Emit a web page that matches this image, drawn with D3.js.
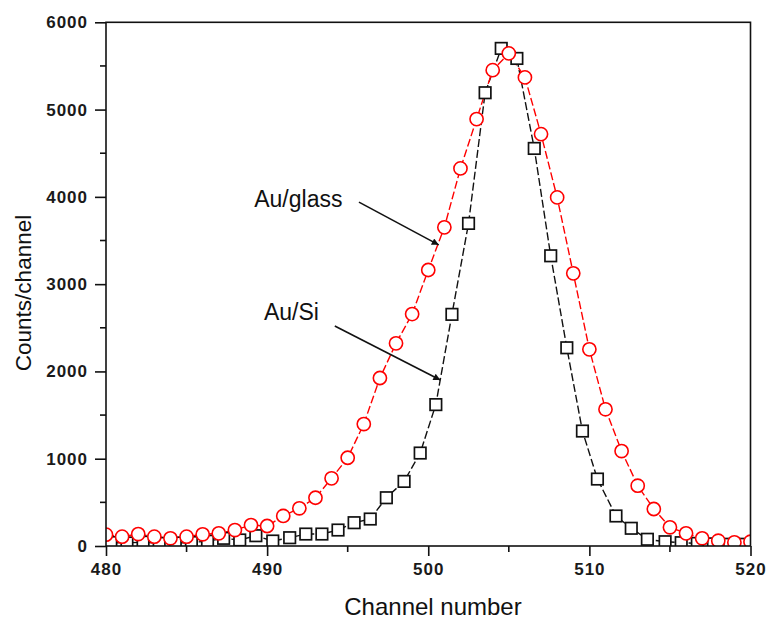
<!DOCTYPE html>
<html>
<head>
<meta charset="utf-8">
<script src="https://cdn.jsdelivr.net/npm/d3@7"></script>
<style>
  html, body { margin: 0; padding: 0; background: #fff; }
  svg { display: block; }
</style>
</head>
<body>
<svg id="chart" width="769" height="619"></svg>
<script>
// ---- data ----
const glassChannels = [480,481,482,483,484,485,486,487,488,489,490,491,492,493,494,495,496,497,498,499,500,501,502,503,504,505,506,507,508,509,510,511,512,513,514,515,516,517,518,519,520];
const glassCounts   = [130,107,137,107,88,107,134,145,183,240,229,344,432,553,775,1011,1397,1925,2322,2657,3162,3651,4326,4891,5452,5644,5369,4719,3994,3124,2253,1566,1088,691,424,214,145,88,61,42,49];

const siChannels = [480.3,481.3,482.3,483.3,484.3,485.3,486.3,487.3,488.3,489.3,490.35,491.4,492.4,493.4,494.4,495.4,496.4,497.4,498.5,499.5,500.47,501.47,502.5,503.53,504.53,505.5,506.58,507.6,508.6,509.57,510.5,511.65,512.6,513.6,514.7,515.7,516.7,517.7,518.7,519.7];
const siCounts   = [40,35,45,30,35,40,55,88,69,118,57,95,137,137,183,267,309,553,740,1065,1620,2654,3696,5193,5701,5586,4555,3325,2271,1317,767,344,203,77,49,38,30,25,20,20];

const xTicks = [480,490,500,510,520];
const xMinor = [485,495,505,515];
const yTicks = [0,1000,2000,3000,4000,5000,6000];
const yMinor = [500,1500,2500,3500,4500,5500];

const annotations = [
  {label: "Au/glass", textX: 489.2, textY: 3880, fromX: 495.7, fromY: 3940, toX: 500.65, toY: 3450},
  {label: "Au/Si",    textX: 489.8, textY: 2590, fromX: 494.2, fromY: 2520, toX: 500.75, toY: 1902}
];

// ---- layout ----
const svg = d3.select("#chart");
const L = 106, R = 750.5, T = 22.3, B = 546;
const x = d3.scaleLinear().domain([480, 520]).range([L, R]);
const y = d3.scaleLinear().domain([0, 6000]).range([B, T]);

svg.append("rect").attr("width", 769).attr("height", 619).attr("fill", "#fff");

svg.append("defs").append("clipPath").attr("id", "plotclip")
  .append("rect").attr("x", L).attr("y", T).attr("width", R - L).attr("height", B - T);
svg.select("defs").append("marker")
  .attr("id", "arrowhead").attr("viewBox", "0 0 10 10")
  .attr("refX", 10).attr("refY", 5)
  .attr("markerWidth", 12).attr("markerHeight", 7)
  .attr("markerUnits", "userSpaceOnUse")
  .attr("orient", "auto")
  .append("path").attr("d", "M0,0 L10,5 L0,10 Z").attr("fill", "#111");

const plot = svg.append("g").attr("clip-path", "url(#plotclip)");

const siData = siChannels.map((c, i) => ({x: c, y: siCounts[i]}));
const glassData = glassChannels.map((c, i) => ({x: c, y: glassCounts[i]}));
const line = d3.line().x(d => x(d.x)).y(d => y(d.y));

// lines
plot.append("path").datum(siData).attr("d", line)
  .attr("fill", "none").attr("stroke", "#111").attr("stroke-width", 1.4)
  .attr("stroke-dasharray", "8,3");
plot.append("path").datum(glassData).attr("d", line)
  .attr("fill", "none").attr("stroke", "#ff0000").attr("stroke-width", 1.4)
  .attr("stroke-dasharray", "8,3");

// markers: squares
const sq = 11.5;
plot.selectAll("rect.si").data(siData).enter().append("rect")
  .attr("class", "si")
  .attr("x", d => x(d.x) - sq / 2).attr("y", d => y(d.y) - sq / 2)
  .attr("width", sq).attr("height", sq)
  .attr("fill", "#fff").attr("stroke", "#111").attr("stroke-width", 1.7);

// markers: circles
plot.selectAll("circle.glass").data(glassData).enter().append("circle")
  .attr("class", "glass")
  .attr("cx", d => x(d.x)).attr("cy", d => y(d.y)).attr("r", 6.6)
  .attr("fill", "#fff").attr("stroke", "#ff0000").attr("stroke-width", 1.6);

// frame
const axisColor = "#111";
svg.append("rect").attr("x", L).attr("y", T).attr("width", R - L).attr("height", B - T)
  .attr("fill", "none").attr("stroke", axisColor).attr("stroke-width", 1.6);

const tickFont = "Arial, 'Liberation Sans', sans-serif";

// x axis
const xAxis = svg.append("g").attr("transform", `translate(0,${B})`)
  .call(d3.axisBottom(x).tickValues(xTicks).tickSize(10).tickFormat(d3.format("d")));
xAxis.select(".domain").remove();
xAxis.selectAll(".tick line").attr("stroke", axisColor).attr("stroke-width", 1.6);
xAxis.selectAll(".tick text").attr("fill", "#1a1a1a")
  .style("font-family", tickFont)
  .style("font-size", "17px").style("font-weight", "bold").style("letter-spacing", "1px")
  .attr("dy", "0.95em").attr("y", 13);
svg.append("g").selectAll("line").data(xMinor).enter().append("line")
  .attr("x1", d => x(d)).attr("x2", d => x(d)).attr("y1", B).attr("y2", B + 6)
  .attr("stroke", axisColor).attr("stroke-width", 1.6);

// y axis
const yAxis = svg.append("g").attr("transform", `translate(${L},0)`)
  .call(d3.axisLeft(y).tickValues(yTicks).tickSize(11).tickFormat(d3.format("d")));
yAxis.select(".domain").remove();
yAxis.selectAll(".tick line").attr("stroke", axisColor).attr("stroke-width", 1.6);
yAxis.selectAll(".tick text").attr("fill", "#1a1a1a")
  .style("font-family", tickFont)
  .style("font-size", "17px").style("font-weight", "bold").style("letter-spacing", "1px")
  .attr("x", -18);
svg.append("g").selectAll("line").data(yMinor).enter().append("line")
  .attr("x1", L - 6).attr("x2", L).attr("y1", d => y(d)).attr("y2", d => y(d))
  .attr("stroke", axisColor).attr("stroke-width", 1.6);

// axis titles
svg.append("text").attr("x", 433).attr("y", 615)
  .attr("text-anchor", "middle").attr("fill", "#111")
  .style("font-family", tickFont).style("font-size", "24px")
  .text("Channel number");
svg.append("text").attr("transform", "translate(31,293) rotate(-90)")
  .attr("text-anchor", "middle").attr("fill", "#111")
  .style("font-family", tickFont).style("font-size", "22.5px")
  .text("Counts/channel");

// annotations
annotations.forEach(a => {
  svg.append("text").attr("x", x(a.textX)).attr("y", y(a.textY))
    .attr("fill", "#111")
    .style("font-family", tickFont).style("font-size", "23px")
    .text(a.label);
  svg.append("line")
    .attr("x1", x(a.fromX)).attr("y1", y(a.fromY))
    .attr("x2", x(a.toX)).attr("y2", y(a.toY))
    .attr("stroke", "#111").attr("stroke-width", 1.6)
    .attr("marker-end", "url(#arrowhead)");
});
</script>
</body>
</html>
